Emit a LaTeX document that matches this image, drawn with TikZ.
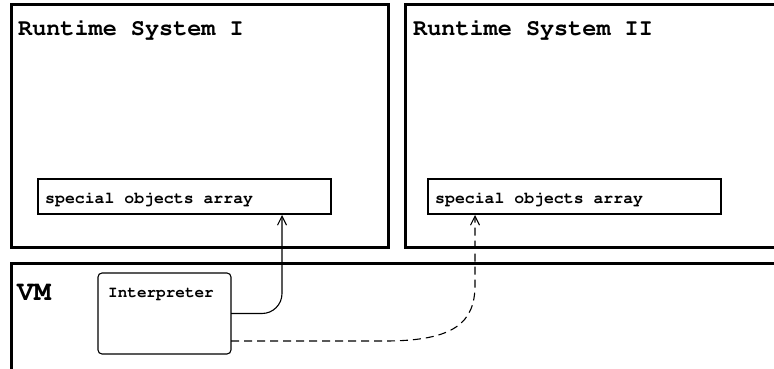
\documentclass[tikz,border=0pt]{standalone}
\usepackage[T1]{fontenc}
\usepackage{courier}
\usetikzlibrary{positioning,arrows.meta}

\begin{document}
\begin{tikzpicture}[x=1pt,y=-1pt,
		system/.style={draw,line width=3pt,inner sep=0pt,outer sep=0pt,anchor=north west},
		arraybox/.style={draw,line width=1.1pt,inner sep=0pt,outer sep=0pt,anchor=north west,minimum width=293pt,minimum height=35pt},
		title/.style={anchor=base west,inner sep=0pt,font=\fontsize{23.5}{27}\selectfont\ttfamily\bfseries},
		label/.style={anchor=base west,inner sep=0pt,font=\fontsize{16.5}{19}\selectfont\ttfamily\bfseries},
		link/.style={-{Straight Barb[length=9pt,width=9pt,line width=1.1pt]},line width=1.1pt}]
		\useasboundingbox (0,0) rectangle (774,369);
		% the two runtime systems
		\node[system,minimum width=377pt,minimum height=242pt] (rs1) at (11,5) {};
		\node[system,minimum width=385pt,minimum height=242pt] (rs2) at (405,5) {};
		\node[title] (rs1 title) at (18,36) {Runtime System I};
		\node[title] (rs2 title) at (413,36) {Runtime System II};
		\node[arraybox] (soa1) at (38,179) {};
		\node[arraybox] (soa2) at (428,179) {};
		\node[label] (soa1 text) at (45,203) {special objects array};
		\node[label] (soa2 text) at (435,203) {special objects array};
		% the vm
		\node[system,minimum width=779pt,minimum height=107pt] (vm) at (11,263) {};
		\node[anchor=base west,inner sep=0pt,font=\fontsize{28}{32}\selectfont\ttfamily\bfseries] (vm title) at (17,300) {VM};
		\node[draw,line width=1.1pt,rounded corners=4pt,outer sep=0pt,anchor=north west,minimum width=133pt,minimum height=81pt] (interp) at (98,273) {};
		\node[anchor=base west,inner sep=0pt,font=\fontsize{16}{19}\selectfont\ttfamily\bfseries] (interp text) at (108,297) {Interpreter};
		% links
		\coordinate (tip1) at (282,215);
		\coordinate (tip2) at (475,215);
		\coordinate (start2) at (231,341);
		\draw[link,rounded corners=20pt] (interp.east) -| (tip1);
		\draw[link,dash pattern=on 8pt off 5pt] (start2) -- (385,341) .. controls (455,341) and (475,322) .. (475,285) -- (tip2);
	\end{tikzpicture}
\end{document}
